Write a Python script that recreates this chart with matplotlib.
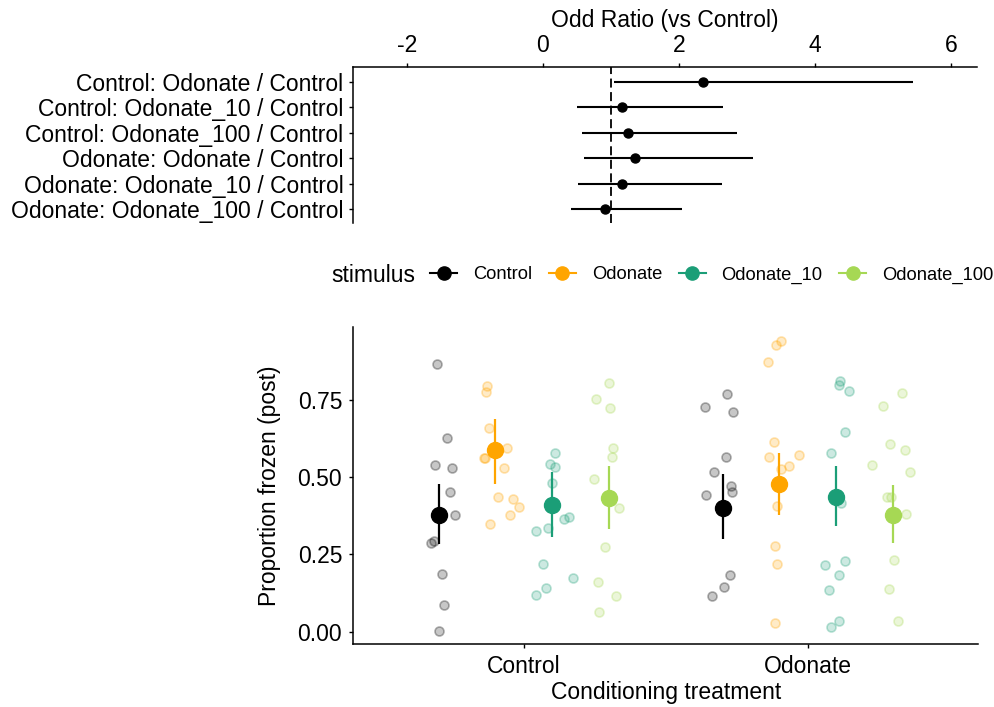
"""
Odds-ratio forest plot (top) over proportion frozen per conditioning
treatment and stimulus (bottom).
"""

import matplotlib
matplotlib.use("Agg")
import matplotlib.pyplot as plt
from matplotlib.lines import Line2D

plt.rcParams["font.family"] = ["Liberation Sans", "DejaVu Sans"]
plt.rcParams["axes.unicode_minus"] = False

# --- data: odds ratios (top panel) ---
contrasts = [
    "Control: Odonate / Control",
    "Control: Odonate_10 / Control",
    "Control: Odonate_100 / Control",
    "Odonate: Odonate / Control",
    "Odonate: Odonate_10 / Control",
    "Odonate: Odonate_100 / Control",
]
or_est = [2.36, 1.16, 1.26, 1.36, 1.16, 0.92]
or_lo = [1.04, 0.51, 0.57, 0.61, 0.52, 0.42]
or_hi = [5.44, 2.65, 2.85, 3.09, 2.63, 2.04]

# --- data: proportion frozen (bottom panel) ---
treatments = ["Control", "Odonate"]
stimuli = ["Control", "Odonate", "Odonate_10", "Odonate_100"]
colors = ["#000000", "#FFA500", "#1B9E77", "#A6D854"]

# model means and intervals, [treatment][stimulus]
mean_prop = [[0.378, 0.588, 0.409, 0.433], [0.402, 0.477, 0.436, 0.379]]
lo_prop = [[0.285, 0.477, 0.306, 0.333], [0.301, 0.377, 0.341, 0.288]]
hi_prop = [[0.480, 0.690, 0.517, 0.536], [0.510, 0.579, 0.537, 0.476]]

# raw observations per stimulus: one list for each treatment
obs_control = [
    [0.866, 0.629, 0.541, 0.530, 0.454, 0.378, 0.293, 0.286, 0.186, 0.087, 0.003],
    [0.769, 0.727, 0.713, 0.566, 0.517, 0.472, 0.451, 0.442, 0.183, 0.144, 0.114],
]
obs_odonate = [
    [0.795, 0.775, 0.661, 0.596, 0.564, 0.564, 0.530, 0.436, 0.430, 0.403, 0.378, 0.350],
    [0.942, 0.929, 0.874, 0.613, 0.567, 0.571, 0.538, 0.526, 0.408, 0.276, 0.219, 0.027],
]
obs_odonate10 = [
    [0.579, 0.544, 0.534, 0.482, 0.371, 0.365, 0.337, 0.325, 0.218, 0.173, 0.141, 0.119],
    [0.812, 0.799, 0.781, 0.647, 0.579, 0.417, 0.230, 0.217, 0.185, 0.134, 0.036, 0.014],
]
obs_odonate100 = [
    [0.807, 0.753, 0.725, 0.595, 0.566, 0.495, 0.402, 0.274, 0.161, 0.114, 0.063],
    [0.773, 0.732, 0.607, 0.590, 0.540, 0.516, 0.436, 0.436, 0.381, 0.231, 0.139, 0.036],
]

# horizontal jitter of each observation (category units)
jit_control = [
    [-0.005, 0.031, -0.011, 0.046, 0.042, 0.057, -0.017, -0.027, 0.013, 0.018, 0.001],
    [0.014, -0.061, 0.036, 0.012, -0.031, 0.029, 0.034, -0.059, 0.026, 0.005, -0.036],
]
jit_odonate = [
    [-0.029, -0.033, -0.022, 0.041, -0.041, -0.036, 0.031, 0.010, 0.063, 0.084, 0.053, -0.018],
    [0.005, -0.011, -0.041, -0.019, -0.036, 0.068, 0.033, 0.004, -0.008, -0.014, -0.010, -0.014],
]
jit_odonate10 = [
    [0.011, -0.007, 0.011, -0.001, 0.058, 0.040, -0.013, -0.057, -0.033, 0.073, -0.022, -0.057],
    [0.014, 0.008, 0.046, 0.031, -0.020, 0.018, 0.031, -0.041, 0.011, -0.025, 0.011, -0.019],
]
jit_odonate100 = [
    [0.001, -0.046, 0.002, 0.014, 0.011, -0.053, 0.035, -0.014, -0.038, 0.026, -0.035],
    [0.033, -0.034, -0.011, 0.042, -0.074, 0.060, -0.022, -0.007, 0.045, 0.005, -0.014, 0.017],
]

obs_all = [obs_control, obs_odonate, obs_odonate10, obs_odonate100]
jit_all = [jit_control, jit_odonate, jit_odonate10, jit_odonate100]
dodge = [-0.3, -0.1, 0.1, 0.3]

FS = 16.5
fig = plt.figure(figsize=(9.95, 7.07), dpi=100)

# --- 1. Forest plot of odds ratios ---
ax1 = fig.add_axes([0.3548, 0.6846, 0.6268, 0.2211])
rows = list(range(len(contrasts)))
ax1.axvline(1, color="black", lw=1.3, ls=(0, (5, 2.5)), zorder=1)
ax1.errorbar(or_est, rows,
             xerr=[[e - l for e, l in zip(or_est, or_lo)],
                   [h - e for e, h in zip(or_est, or_hi)]],
             fmt="o", color="black", ms=6.5, lw=1.5, capsize=0, zorder=3)
ax1.set_xlim(-2.79, 6.38)
ax1.set_ylim(5.55, -0.6)
ax1.set_yticks(rows)
ax1.set_yticklabels(contrasts)
ax1.set_xticks([-2, 0, 2, 4, 6])
ax1.xaxis.tick_top()
ax1.xaxis.set_label_position("top")
ax1.set_xlabel("Odd Ratio (vs Control)", fontsize=FS, labelpad=5)
for side in ["bottom", "right"]:
    ax1.spines[side].set_visible(False)
for side in ["top", "left"]:
    ax1.spines[side].set_linewidth(1.1)
ax1.tick_params(labelsize=FS, length=3, width=1.0, pad=4, colors="black")

# --- 2. Proportion frozen ---
ax2 = fig.add_axes([0.3551, 0.0891, 0.6281, 0.4488])
for k, stim in enumerate(stimuli):
    for g in range(len(treatments)):
        xs = [g + dodge[k] + d for d in jit_all[k][g]]
        ax2.scatter(xs, obs_all[k][g], s=42,
                    facecolor=matplotlib.colors.to_rgba(colors[k], 0.22),
                    edgecolor=matplotlib.colors.to_rgba(colors[k], 0.3),
                    linewidth=1.2, zorder=2)
    xm = [g + dodge[k] for g in range(len(treatments))]
    ym = [mean_prop[g][k] for g in range(len(treatments))]
    err = [[mean_prop[g][k] - lo_prop[g][k] for g in range(len(treatments))],
           [hi_prop[g][k] - mean_prop[g][k] for g in range(len(treatments))]]
    ax2.errorbar(xm, ym, yerr=err, fmt="o", color=colors[k], ms=11.5,
                 lw=1.6, capsize=0, zorder=3)

ax2.set_xlim(-0.6, 1.6)
ax2.set_ylim(-0.040, 0.988)
ax2.set_xticks(range(len(treatments)))
ax2.set_xticklabels(treatments)
ax2.set_yticks([0, 0.25, 0.5, 0.75])
ax2.set_yticklabels(["0.00", "0.25", "0.50", "0.75"])
ax2.set_xlabel("Conditioning treatment", fontsize=FS, labelpad=2)
ax2.set_ylabel("Proportion frozen (post)", fontsize=FS, labelpad=12)
for side in ["top", "right"]:
    ax2.spines[side].set_visible(False)
for side in ["bottom", "left"]:
    ax2.spines[side].set_linewidth(1.1)
ax2.tick_params(labelsize=FS, length=3, width=1.0, pad=5, colors="black")

# --- 3. Legend ---
handles = [Line2D([], [], color=c, marker="o", ms=9.5, lw=1.5) for c in colors]
fig.text(0.3334, 0.611, "stimulus", fontsize=FS, va="center", ha="left")
fig.legend(handles, stimuli, loc="center left", bbox_to_anchor=(0.4322, 0.611),
           ncol=4, frameon=False, fontsize=13.2, handlelength=1.47,
           handletextpad=0.87, columnspacing=0.91, borderpad=0, borderaxespad=0)

fig.savefig("out.png", dpi=100)
